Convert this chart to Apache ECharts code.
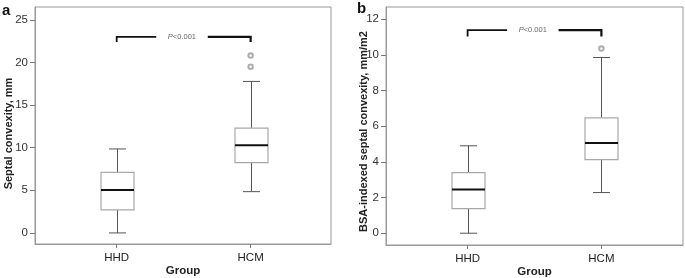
<!DOCTYPE html>
<html>
<head>
<meta charset="utf-8">
<script src="https://cdn.jsdelivr.net/npm/echarts@6/dist/echarts.min.js"></script>
<style>
html,body{margin:0;padding:0;background:#fff;}
#c{width:685px;height:278px;}
</style>
</head>
<body>
<div id="c"></div>
<script>
// ---- data ----
const categories = ['HHD', 'HCM'];
// [min, Q1, median, Q3, max]
const septalBox = [[0, 2.7, 5.04, 7.1, 9.85], [4.84, 8.24, 10.27, 12.3, 17.77]];
const septalOutliers = [[1, 20.8], [1, 19.5]];           // [category index, value]
const bsaBox = [[0, 1.38, 2.45, 3.40, 4.9], [2.28, 4.13, 5.06, 6.47, 9.85]];
const bsaOutliers = [[1, 10.35]];
const septalTicks = [0, 5, 10, 15, 20, 25];
const bsaTicks = [0, 2, 4, 6, 8, 10, 12];
const septalBracket = [23.0, 22.4];   // [bar level, end of drop]
const bsaBracket = [11.38, 11.03];
const pLabel = ['P', '<0.001'];
const yTitles = ['Septal convexity, mm', 'BSA-indexed septal convexity, mm/m2'];
const xTitle = 'Group';
const panelLetters = ['a', 'b'];

// ---- helpers ----
const FONT = '"Liberation Sans", Arial, sans-serif';
const catPos = categories.map((c, i) => i + 1);

function boxRows(box) { return box.map((b, i) => [catPos[i]].concat(b)); }
function outRows(out) { return out.map(o => [catPos[o[0]], o[1]]); }

function renderBox(params, api) {
  const x = api.value(0);
  const pMin = api.coord([x, api.value(1)]);
  const pQ1 = api.coord([x, api.value(2)]);
  const pMed = api.coord([x, api.value(3)]);
  const pQ3 = api.coord([x, api.value(4)]);
  const pMax = api.coord([x, api.value(5)]);
  const bw = 33, cw = 17;
  const cx = Math.round(pMed[0]) + 0.5;
  const wStyle = { stroke: '#555', lineWidth: 1 };
  return {
    type: 'group',
    children: [
      { type: 'line', shape: { x1: cx, y1: pMin[1], x2: cx, y2: pQ1[1] }, style: wStyle },
      { type: 'line', shape: { x1: cx, y1: pQ3[1], x2: cx, y2: pMax[1] }, style: wStyle },
      { type: 'line', shape: { x1: cx - cw / 2, y1: pMin[1], x2: cx + cw / 2, y2: pMin[1] }, style: wStyle },
      { type: 'line', shape: { x1: cx - cw / 2, y1: pMax[1], x2: cx + cw / 2, y2: pMax[1] }, style: wStyle },
      { type: 'rect', shape: { x: cx - bw / 2, y: pQ3[1], width: bw, height: pQ1[1] - pQ3[1] },
        style: { fill: '#fff', stroke: '#a8a8a8', lineWidth: 1.2 } },
      { type: 'line', shape: { x1: cx - bw / 2, y1: pMed[1], x2: cx + bw / 2, y2: pMed[1] },
        style: { stroke: '#111', lineWidth: 2 } }
    ]
  };
}

function renderBracket(params, api) {
  const x1 = api.value(0), x2 = api.value(1);
  const pA = api.coord([x1, api.value(2)]);
  const pB = api.coord([x2, api.value(2)]);
  const dA = api.coord([x1, api.value(3)]);
  const span = pB[0] - pA[0];
  const y = pA[1];
  return {
    type: 'group',
    children: [
      { type: 'polyline', shape: { points: [[pA[0], dA[1]], [pA[0], y], [pA[0] + span * 0.295, y]] },
        style: { stroke: '#111', lineWidth: 1.8, fill: null } },
      { type: 'polyline', shape: { points: [[pA[0] + span * 0.68, y], [pB[0], y], [pB[0], dA[1]]] },
        style: { stroke: '#111', lineWidth: 2.2, fill: null } },
      { type: 'text', x: pA[0] + span * 0.487, y: y,
        style: { text: '{i|' + pLabel[0] + '}{n|' + pLabel[1] + '}', align: 'center', verticalAlign: 'middle',
          rich: { i: { fontStyle: 'italic', fontSize: 7.5, fill: '#666', fontFamily: FONT },
                  n: { fontSize: 7.5, fill: '#666', fontFamily: FONT } } } }
    ]
  };
}

function xAxisDef(grid, min, max) {
  return {
    type: 'value', gridIndex: grid, min: min, max: max,
    name: xTitle, nameLocation: 'middle', nameGap: 21, nameMoveOverlap: false,
    nameTextStyle: { fontFamily: FONT, fontWeight: 'bold', fontSize: 11.5, color: '#222' },
    axisLine: { show: true, onZero: false, lineStyle: { color: '#999' } },
    axisTick: { show: true, customValues: catPos, length: 4, lineStyle: { color: '#777' } },
    axisLabel: { customValues: catPos, margin: 8, fontFamily: FONT, fontSize: 11.5, color: '#222',
      formatter: v => categories[Math.round(v) - 1] || '' },
    splitLine: { show: false }
  };
}
function yAxisDef(grid, min, max, ticks, title, gap, pad) {
  return {
    type: 'value', gridIndex: grid, min: min, max: max,
    name: title, nameLocation: 'middle', nameGap: gap, nameRotate: 90, nameMoveOverlap: false,
    nameTextStyle: { fontFamily: FONT, fontWeight: 'bold', fontSize: 11, color: '#222', padding: [0, pad, 0, 0] },
    axisLine: { show: true, onZero: false, lineStyle: { color: '#999' } },
    axisTick: { show: true, customValues: ticks, length: 5, lineStyle: { color: '#777' } },
    axisLabel: { customValues: ticks, margin: 7, fontFamily: FONT, fontSize: 11.5, color: '#333' },
    splitLine: { show: false }
  };
}

const chart = echarts.init(document.getElementById('c'), null, { renderer: 'canvas' });
chart.setOption({
  animation: false,
  backgroundColor: '#fff',
  grid: [
    { left: 35, top: 7, width: 296, height: 237, containLabel: false, outerBoundsMode: 'none',
      show: true, borderColor: '#999', borderWidth: 1, backgroundColor: '#fff' },
    { left: 386, top: 7, width: 297, height: 238, containLabel: false, outerBoundsMode: 'none',
      show: true, borderColor: '#999', borderWidth: 1, backgroundColor: '#fff' }
  ],
  xAxis: [xAxisDef(0, 0.39, 2.6), xAxisDef(1, 0.39, 2.61)],
  yAxis: [
    yAxisDef(0, -1.3, 26.5, septalTicks, yTitles[0], 21, 16),
    yAxisDef(1, -0.66, 12.68, bsaTicks, yTitles[1], 17, 11)
  ],
  graphic: [
    { type: 'text', left: 2, top: 3, style: { text: panelLetters[0], font: 'bold 15px ' + FONT, fill: '#111' } },
    { type: 'text', left: 357, top: 1, style: { text: panelLetters[1], font: 'bold 15px ' + FONT, fill: '#111' } }
  ],
  series: [
    { type: 'custom', xAxisIndex: 0, yAxisIndex: 0, renderItem: renderBox,
      encode: { x: 0, y: [1, 2, 3, 4, 5] }, data: boxRows(septalBox) },
    { type: 'scatter', xAxisIndex: 0, yAxisIndex: 0, symbol: 'emptyCircle', symbolSize: 4.5, z: 5,
      itemStyle: { color: '#999', borderColor: '#999', borderWidth: 0.9 }, data: outRows(septalOutliers) },
    { type: 'custom', xAxisIndex: 0, yAxisIndex: 0, renderItem: renderBracket,
      encode: { x: [0, 1], y: [2, 3] }, data: [[catPos[0], catPos[1], septalBracket[0], septalBracket[1]]] },

    { type: 'custom', xAxisIndex: 1, yAxisIndex: 1, renderItem: renderBox,
      encode: { x: 0, y: [1, 2, 3, 4, 5] }, data: boxRows(bsaBox) },
    { type: 'scatter', xAxisIndex: 1, yAxisIndex: 1, symbol: 'emptyCircle', symbolSize: 4.5, z: 5,
      itemStyle: { color: '#999', borderColor: '#999', borderWidth: 0.9 }, data: outRows(bsaOutliers) },
    { type: 'custom', xAxisIndex: 1, yAxisIndex: 1, renderItem: renderBracket,
      encode: { x: [0, 1], y: [2, 3] }, data: [[catPos[0], catPos[1], bsaBracket[0], bsaBracket[1]]] }
  ]
});
</script>
</body>
</html>
